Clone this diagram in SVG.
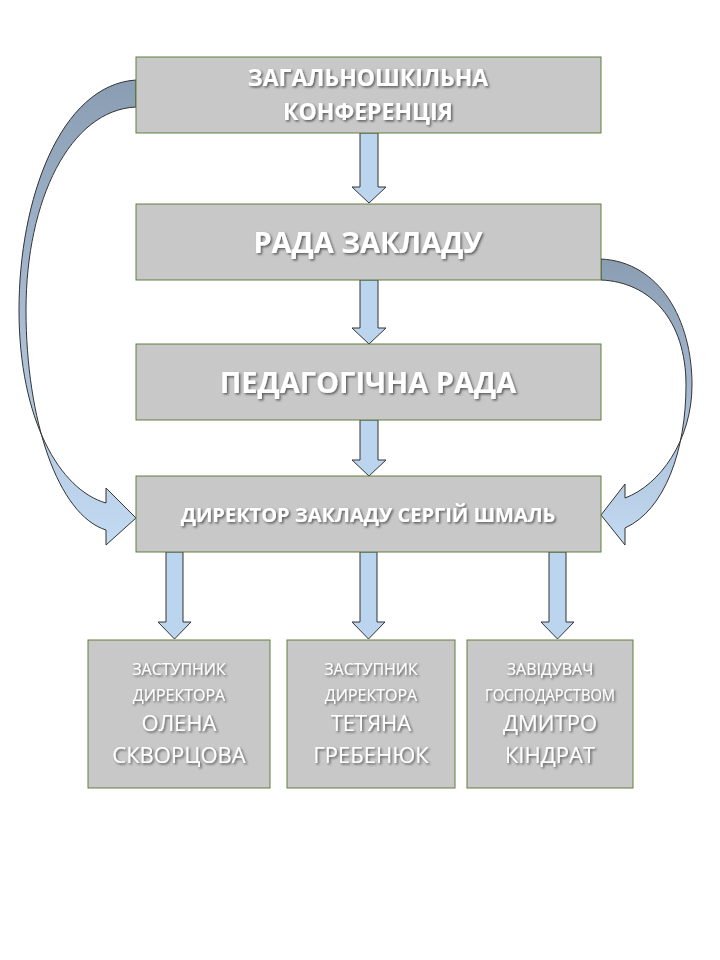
<svg xmlns="http://www.w3.org/2000/svg" width="720" height="960" viewBox="0 0 720 960">
<defs>
<filter id="sh" x="-10%" y="-30%" width="120%" height="160%"><feDropShadow dx="1.5" dy="1.5" stdDeviation="1" flood-color="#000" flood-opacity="0.55"/></filter>
<linearGradient id="gl" x1="0" y1="0" x2="0" y2="1"><stop offset="0" stop-color="#8a9db3"/><stop offset="1" stop-color="#c2daf2"/></linearGradient>
<linearGradient id="gr" x1="0" y1="0" x2="0" y2="1"><stop offset="0" stop-color="#8a9db3"/><stop offset="1" stop-color="#c2daf2"/></linearGradient>
</defs>
<style>
.box{fill:#c8c8c8;stroke:#5f7f3f;stroke-width:1}
.t{fill:#fff;font-family:"Open Sans","Noto Sans",sans-serif;text-anchor:middle;filter:url(#sh)}
.b{font-weight:bold}
.arr{fill:#bcd5ee;stroke:#333;stroke-width:1}
.cur{stroke:#333;stroke-width:1}
</style>
<rect width="720" height="960" fill="#fff"/>
<g id="connectors">
<path class="arr" d="M360,133 H378 V187 H386 L369,203 L352,187 H360 Z"/>
<path class="arr" d="M360,280 H378 V328 H386 L369,344 L352,328 H360 Z"/>
<path class="arr" d="M360,420 H378 V460 H386 L369,476 L352,460 H360 Z"/>
<path class="arr" d="M166,552 H183 V622 H191 L174.5,639 L158,622 H166 Z"/>
<path class="arr" d="M360,552 H377 V622 H385 L368.5,639 L352,622 H360 Z"/>
<path class="arr" d="M549,552 H566 V622 H574 L557.5,639 L541,622 H549 Z"/>
<path class="cur" fill="url(#gl)" d="M136,80 C60,85 19,200 19,310 C19,420 60,490 106,503 L106,488 L136,518 L106,545 L106,530 C58,515 26,420 26,310 C26,200 70,110 136,107 Z"/>
<path class="cur" fill="url(#gr)" d="M601,259 C660,262 692,320 692,385 C692,440 660,485 625,498 L625,484 L601,515 L625,545 L625,528 C665,510 686,450 686,385 C686,320 650,282 601,280 Z"/>
</g>
<g id="n1"><rect class="box" x="136" y="57" width="465" height="76"/><text class="t b" x="368" y="86" font-size="23">ЗАГАЛЬНОШКІЛЬНА</text><text class="t b" x="368" y="120" font-size="23">КОНФЕРЕНЦІЯ</text></g>
<g id="n2"><rect class="box" x="136" y="204" width="465" height="76"/><text class="t b" x="368" y="253" font-size="29">РАДА ЗАКЛАДУ</text></g>
<g id="n3"><rect class="box" x="136" y="344" width="465" height="76"/><text class="t b" x="368" y="393" font-size="29">ПЕДАГОГІЧНА РАДА</text></g>
<g id="n4"><rect class="box" x="136" y="476" width="465" height="76"/><text class="t b" x="368" y="522" font-size="20">ДИРЕКТОР ЗАКЛАДУ СЕРГІЙ ШМАЛЬ</text></g>
<g id="n5"><rect class="box" x="88" y="640" width="182" height="148"/><text class="t" x="179" y="675" font-size="16">ЗАСТУПНИК</text><text class="t" x="179" y="701" font-size="16">ДИРЕКТОРА</text><text class="t" x="179" y="731" font-size="22">ОЛЕНА</text><text class="t" x="179" y="763" font-size="22">СКВОРЦОВА</text></g>
<g id="n6"><rect class="box" x="287" y="640" width="168" height="148"/><text class="t" x="371" y="675" font-size="16">ЗАСТУПНИК</text><text class="t" x="371" y="701" font-size="16">ДИРЕКТОРА</text><text class="t" x="371" y="731" font-size="22">ТЕТЯНА</text><text class="t" x="371" y="763" font-size="22">ГРЕБЕНЮК</text></g>
<g id="n7"><rect class="box" x="467" y="640" width="166" height="148"/><text class="t" x="550" y="675" font-size="16">ЗАВІДУВАЧ</text><text class="t" x="550" y="701" font-size="16" textLength="130" lengthAdjust="spacingAndGlyphs">ГОСПОДАРСТВОМ</text><text class="t" x="550" y="731" font-size="22">ДМИТРО</text><text class="t" x="550" y="763" font-size="22">КІНДРАТ</text></g>
</svg>
